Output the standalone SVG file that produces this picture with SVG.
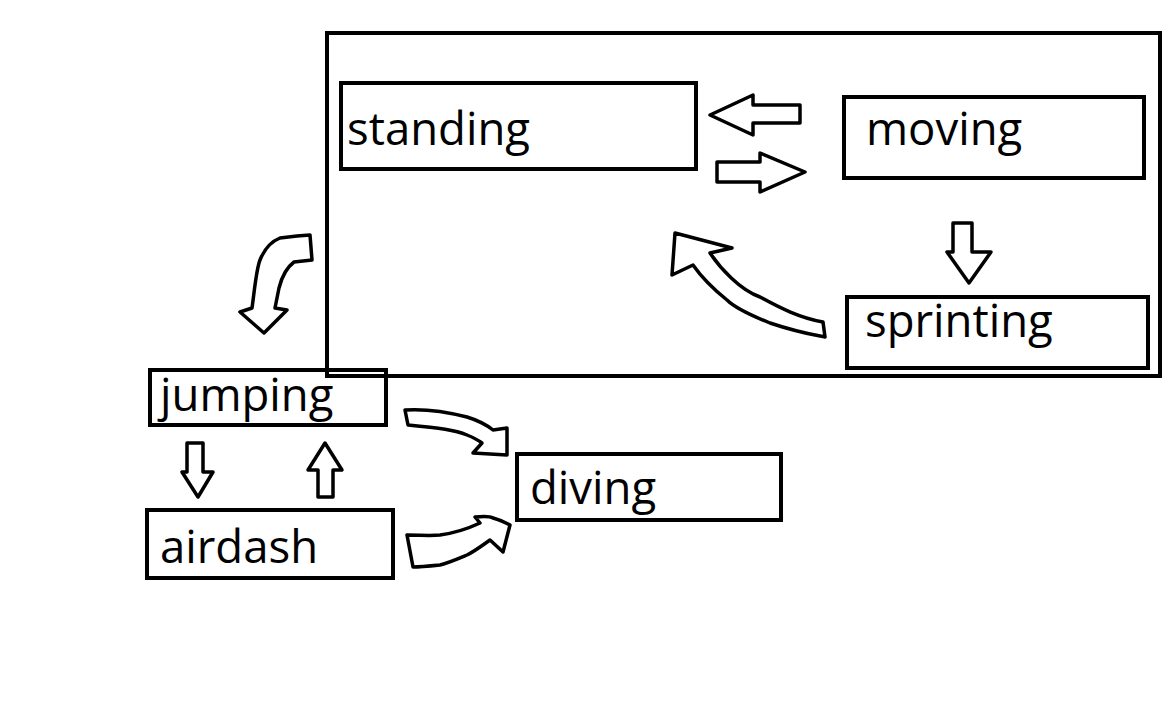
<svg xmlns="http://www.w3.org/2000/svg" width="1172" height="714" viewBox="0 0 1172 714">
<style>
.box{fill:none;stroke:#000;stroke-width:4}
.arr{fill:#fff;stroke:#000;stroke-width:3.5;stroke-linejoin:round}
.lbl{font-family:"Open Sans","Noto Sans",sans-serif;font-size:45.5px;fill:#000}
</style>
<rect width="1172" height="714" fill="#fff"/>
<g id="container"><rect class="box" x="327" y="33" width="833" height="343"/></g>
<g id="standing"><rect class="box" x="341" y="83" width="355" height="86"/><text class="lbl" x="347" y="145">standing</text></g>
<g id="moving"><rect class="box" x="844" y="97" width="300" height="81"/><text class="lbl" x="866" y="145">moving</text></g>
<g id="sprinting"><rect class="box" x="847" y="297" width="301" height="71"/><text class="lbl" x="865" y="337">sprinting</text></g>
<g id="jumping"><rect class="box" x="150" y="370" width="236" height="55"/><text class="lbl" x="160" y="411">jumping</text></g>
<g id="airdash"><rect class="box" x="147" y="510" width="246" height="68"/><text class="lbl" x="160" y="563">airdash</text></g>
<g id="diving"><rect class="box" x="517" y="454" width="264" height="66"/><text class="lbl" x="530" y="504">diving</text></g>
<g id="connectors">
<polygon class="arr" points="710,115 753,95 753,105 800,105 800,123 753,123 753,135"/>
<polygon class="arr" points="717,162 760,162 760,153 805,172 760,192 760,182 717,182"/>
<polygon class="arr" points="953,223 972,223 972,252 991,252 969,283 947,252 953,252"/>
<polygon class="arr" points="187,443 203,443 203,472 213,472 198,497 182,472 187,472"/>
<polygon class="arr" points="325,443 342,470 333,470 333,497 318,497 318,470 308,470"/>
<path class="arr" d="M310,235 L312,260 L294,262 C286,268 281,280 279,288 L275,308 L287,310 L264,333 L240,312 L252,308 C254,295 256,270 260,260 C264,250 270,242 280,238 L297,236 Z"/>
<path class="arr" d="M675,233 L732,248 L710,253 C720,268 740,290 760,297 C780,308 800,318 823,322 L825,337 C815,335 800,333 770,323 C750,315 735,308 727,300 C712,288 700,275 693,265 L672,275 Z"/>
<path class="arr" d="M405,410 C420,409 440,410 467,417 C480,421 488,426 493,430 L507,428 L507,455 L473,453 L482,443 C478,440 472,437 467,435 C455,430 440,428 408,425 Z"/>
<path class="arr" d="M407,535 C420,535 430,536 440,535 C455,533 465,530 480,523 L475,517 C485,516 490,516 493,518 C500,520 505,522 510,525 L503,552 L490,540 C480,547 475,551 467,555 C455,560 448,563 440,565 C430,566 420,567 413,567 Z"/>
</g>
</svg>
